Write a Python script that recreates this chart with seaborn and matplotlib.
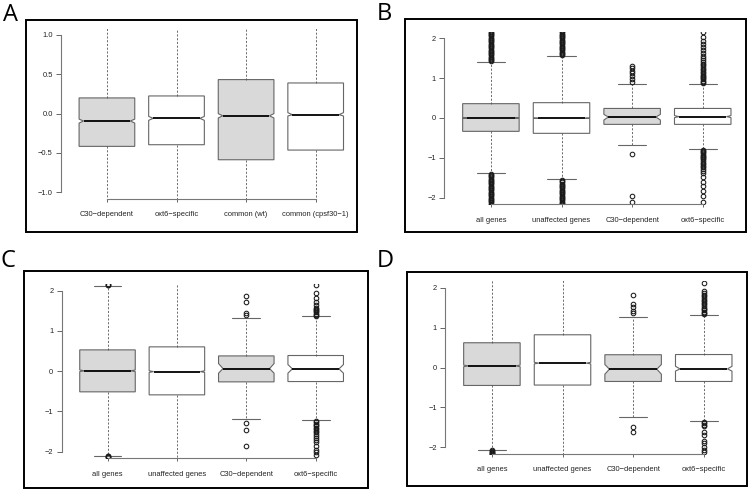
import matplotlib
matplotlib.use("Agg")
import matplotlib.pyplot as plt
from matplotlib.patches import Rectangle
from matplotlib.path import Path
import seaborn as sns

sns.set_style("ticks")
plt.rcParams['font.family'] = ['Liberation Sans', 'DejaVu Sans']

# ---- data ----
labels_A = ["C30\u2212dependent", "oxt6\u2212specific", "common (wt)", "common (cpsf30\u22121)"]
labels_BCD = ["all genes", "unaffected genes", "C30\u2212dependent", "oxt6\u2212specific"]
box_fill = ["#d9d9d9", "white", "#d9d9d9", "white"]

# panel A
q1_A = [-0.416, -0.395, -0.586, -0.463]
med_A = [-0.093, -0.060, -0.027, -0.013]
q3_A = [0.200, 0.225, 0.433, 0.390]
cilo_A = [-0.120, -0.085, -0.055, -0.030]
cihi_A = [-0.070, -0.035, 0.000, 0.013]
whislo_A = [-1.40, -1.35, -1.90, -1.60]
whishi_A = [1.20, 1.20, 1.50, 1.40]
fliers_A = [[], [], [], []]

# panel B
q1_B = [-0.335, -0.385, -0.160, -0.160]
med_B = [0.000, -0.005, 0.025, 0.035]
q3_B = [0.360, 0.385, 0.240, 0.240]
cilo_B = [-0.008, -0.013, -0.050, 0.010]
cihi_B = [0.008, 0.003, 0.090, 0.060]
whislo_B = [-1.38, -1.54, -0.686, -0.77]
whishi_B = [1.405, 1.565, 0.86, 0.85]
fliers_B = [
    [1.42, 1.45, 1.48, 1.51, 1.54, 1.57, 1.60, 1.63, 1.66, 1.69, 1.72, 1.75, 1.78,
     1.81, 1.84, 1.87, 1.90, 1.93, 1.96, 1.99, 2.02, 2.05, 2.08, 2.11, 2.14, 2.17,
     -1.40, -1.43, -1.46, -1.49, -1.52, -1.55, -1.58, -1.61, -1.64, -1.67, -1.70,
     -1.73, -1.76, -1.79, -1.82, -1.85, -1.88, -1.91, -1.94, -1.97, -2.00, -2.03,
     -2.06, -2.09, -2.12, -2.15, -2.18],
    [1.58, 1.61, 1.64, 1.67, 1.70, 1.73, 1.76, 1.79, 1.82, 1.85, 1.88, 1.91, 1.94,
     1.97, 2.00, 2.03, 2.06, 2.09, 2.12, 2.15, 2.18,
     -1.56, -1.59, -1.62, -1.65, -1.68, -1.71, -1.74, -1.77, -1.80, -1.83, -1.86,
     -1.89, -1.92, -1.95, -1.98, -2.01, -2.04, -2.07, -2.10, -2.13, -2.16, -2.19],
    [1.31, 1.25, 1.19, 1.12, 1.05, 0.98, 0.90, -0.90, -1.97, -2.12],
    [0.88, 0.91, 0.94, 0.97, 1.00, 1.03, 1.06, 1.09, 1.12, 1.16, 1.20, 1.24, 1.28,
     1.32, 1.36, 1.40, 1.45, 1.50, 1.56, 1.62, 1.70, 1.78, 1.86, 1.94, 2.04, 2.15,
     -0.80, -0.83, -0.86, -0.89, -0.92, -0.95, -0.98, -1.01, -1.04, -1.08, -1.12,
     -1.16, -1.20, -1.24, -1.28, -1.33, -1.39, -1.47, -1.60, -1.72, -1.83, -1.97, -2.10],
]

# panel C
q1_C = [-0.513, -0.588, -0.265, -0.257]
med_C = [0.010, -0.010, 0.066, 0.058]
q3_C = [0.530, 0.605, 0.380, 0.390]
cilo_C = [-0.010, -0.030, -0.050, -0.050]
cihi_C = [0.030, 0.010, 0.190, 0.166]
whislo_C = [-2.10, -2.60, -1.176, -1.225]
whishi_C = [2.13, 2.60, 1.31, 1.36]
fliers_C = [
    [2.14, 2.15, 2.16, -2.11, -2.12, -2.13, -2.14],
    [],
    [1.86, 1.71, 1.44, 1.39, -1.28, -1.46, -1.87],
    [1.37, 1.40, 1.43, 1.46, 1.49, 1.52, 1.55, 1.58, 1.64, 1.72, 1.81, 1.95, 2.14,
     -1.24, -1.27, -1.30, -1.33, -1.36, -1.40, -1.44, -1.48, -1.52, -1.56, -1.60,
     -1.65, -1.70, -1.75, -1.85, -1.95, -2.02, -2.09],
]

# panel D
q1_D = [-0.450, -0.440, -0.350, -0.350]
med_D = [0.040, 0.110, -0.042, -0.035]
q3_D = [0.620, 0.820, 0.320, 0.325]
cilo_D = [0.020, 0.090, -0.167, -0.090]
cihi_D = [0.060, 0.130, 0.075, 0.030]
whislo_D = [-2.06, -2.80, -1.25, -1.35]
whishi_D = [2.50, 2.80, 1.26, 1.32]
fliers_D = [
    [-2.07, -2.09, -2.11, -2.13, -2.15, -2.17, -2.19],
    [],
    [1.81, 1.59, 1.51, 1.41, 1.36, -1.49, -1.61],
    [1.34, 1.37, 1.40, 1.43, 1.46, 1.50, 1.54, 1.58, 1.62, 1.66, 1.70, 1.74, 1.78,
     1.82, 1.86, 1.91, 2.12,
     -1.37, -1.40, -1.43, -1.46, -1.62, -1.70, -1.83, -1.90, -1.98, -2.07, -2.11],
]

W, H = 750, 490
fig = plt.figure(figsize=(7.5, 4.9), dpi=100)

EDGE = "#666666"


def px_rect(left, top, right, bottom):
    return [left / W, 1 - bottom / H, (right - left) / W, (bottom - top) / H]


def draw_panel(rect, xlim, ylim, yticks, labels, q1, med, q3, cilo, cihi, lo, hi, fliers):
    ax = fig.add_axes(px_rect(*rect))
    ax.set_facecolor("none")
    stats = []
    for i in range(len(labels)):
        stats.append(dict(q1=q1[i], med=med[i], q3=q3[i], cilo=cilo[i], cihi=cihi[i],
                          whislo=lo[i], whishi=hi[i], fliers=fliers[i], label=labels[i]))
    pos = list(range(1, len(labels) + 1))
    width = 0.8
    res = ax.bxp(stats, positions=pos, widths=width, shownotches=True, patch_artist=True,
                 boxprops=dict(edgecolor=EDGE, linewidth=0.8),
                 whiskerprops=dict(color="#555555", linewidth=0.6, linestyle=(0, (2.5, 2))),
                 capprops=dict(color=EDGE, linewidth=0.8),
                 medianprops=dict(color="black", linewidth=1.3, solid_capstyle="butt"),
                 flierprops=dict(marker="o", markerfacecolor="none", markeredgecolor="#1a1a1a",
                                 markersize=3.3, markeredgewidth=0.75))
    # shallower notches, like the R figure
    for p, box, medline, fc in zip(pos, res["boxes"], res["medians"], box_fill):
        box.set_facecolor(fc)
        path = box.get_path()
        v = path.vertices.copy()
        for k in range(len(v)):
            if abs(v[k, 0] - p) < width * 0.3:
                v[k, 0] = p - width * 0.42 if v[k, 0] < p else p + width * 0.42
        box.set_path(Path(v, path.codes))
        medline.set_xdata([p - width * 0.42, p + width * 0.42])
    ax.set_xlim(*xlim)
    ax.set_ylim(-ylim, ylim)
    ax.set_yticks(yticks)
    ax.set_xticks(pos)
    ax.set_xticklabels(labels)
    ax.tick_params(axis="both", labelsize=5.4, colors="#666666", labelcolor="#222222", width=0.7)
    ax.tick_params(axis="x", length=2.5, pad=6.5)
    ax.tick_params(axis="y", length=3.5, pad=2.5)
    sns.despine(ax=ax, trim=True)
    for s in ("left", "bottom"):
        ax.spines[s].set_color("#777777")
        ax.spines[s].set_linewidth(0.8)
    ax.grid(False)
    return ax


draw_panel((61, 28.7, 361.6, 198.6), (0.34, 4.66), 1.08, [-1, -0.5, 0, 0.5, 1],
           labels_A, q1_A, med_A, q3_A, cilo_A, cihi_A, whislo_A, whishi_A, fliers_A)
draw_panel((444.3, 32, 745.1, 204), (0.34, 4.60), 2.16, [-2, -1, 0, 1, 2],
           labels_BCD, q1_B, med_B, q3_B, cilo_B, cihi_B, whislo_B, whishi_B, fliers_B)
draw_panel((61.7, 284.3, 361.5, 458.1), (0.34, 4.66), 2.16, [-2, -1, 0, 1, 2],
           labels_BCD, q1_C, med_C, q3_C, cilo_C, cihi_C, whislo_C, whishi_C, fliers_C)
draw_panel((445.3, 281.3, 746.1, 453.7), (0.34, 4.60), 2.16, [-2, -1, 0, 1, 2],
           labels_BCD, q1_D, med_D, q3_D, cilo_D, cihi_D, whislo_D, whishi_D, fliers_D)

# black frames around each panel
frames = [(26, 20, 357, 231.7), (405, 19.3, 746, 231.7),
          (24, 271, 367.7, 488), (407.3, 272.3, 747.3, 486)]
for l, t, r, b in frames:
    fig.add_artist(Rectangle((l / W, 1 - b / H), (r - l) / W, (b - t) / H,
                             transform=fig.transFigure, fill=False,
                             edgecolor="black", linewidth=1.4))

# panel letters
for letter, x, y in [("A", 3, 3), ("B", 377, 2), ("C", 1, 249), ("D", 377, 249)]:
    fig.text(x / W, 1 - y / H, letter, fontsize=17, family=["Open Sans", "DejaVu Sans"],
             ha="left", va="top", color="black")

fig.savefig("out.png", dpi=100)
